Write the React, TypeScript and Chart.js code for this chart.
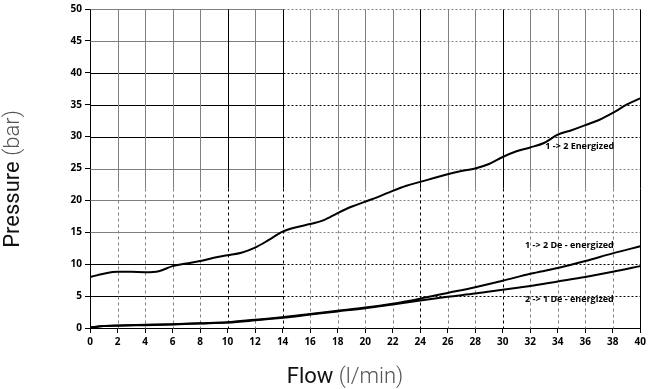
import React, { useEffect, useRef } from "react";
import { Chart, registerables } from "chart.js";

Chart.register(...registerables);

// Flow (l/min) sample points
const flowUpper = [0, 1, 2, 3, 4, 5, 6, 7, 8, 9, 10, 11, 12, 13, 14, 15, 16, 17, 18, 19, 20, 21, 22, 23, 24, 25, 26, 27, 28, 29, 30, 31, 32, 33, 34, 35, 36, 37, 38, 39, 40];
// 1 -> 2 Energized (bar)
const energized12 = [8.0, 8.5, 8.8, 8.8, 8.75, 8.9, 9.7, 10.1, 10.5, 11.0, 11.4, 11.8, 12.6, 13.8, 15.1, 15.8, 16.3, 16.9, 18.0, 19.0, 19.8, 20.6, 21.5, 22.3, 22.9, 23.5, 24.1, 24.6, 25.0, 25.7, 26.8, 27.7, 28.3, 29.0, 30.3, 31.0, 31.8, 32.6, 33.7, 35.0, 36.0];

const flowDe = [0, 1, 2, 4, 6, 8, 10, 12, 14, 16, 18, 20, 22, 24, 26, 28, 30, 32, 34, 36, 38, 40];
// 1 -> 2 De - energized (bar)
const deEnergized12 = [0.05, 0.3, 0.4, 0.5, 0.6, 0.75, 0.9, 1.3, 1.7, 2.2, 2.7, 3.2, 3.8, 4.6, 5.5, 6.4, 7.4, 8.5, 9.4, 10.5, 11.7, 12.8];
// 2 -> 1 De - energized (bar)
const deEnergized21 = [0.05, 0.3, 0.35, 0.45, 0.55, 0.7, 0.85, 1.2, 1.6, 2.1, 2.6, 3.1, 3.7, 4.3, 4.9, 5.4, 6.0, 6.6, 7.3, 8.0, 8.8, 9.7];

const xTicks = [0, 2, 4, 6, 8, 10, 12, 14, 16, 18, 20, 22, 24, 26, 28, 30, 32, 34, 36, 38, 40];
const yTicks = [0, 5, 10, 15, 20, 25, 30, 35, 40, 45, 50];
const darkX = [0, 10, 14, 24, 30, 40];
const darkY = [0, 5, 10, 30, 35, 40];

const seriesLabels = ["1 -> 2 Energized", "1 -> 2 De - energized", "2 -> 1 De - energized"];
// label anchor points in data units (flow, pressure)
const labelFlow = [35.6, 34.85, 34.85];
const labelPressure = [28.5, 12.9, 4.5];

const TICK_FONT = "'Open Sans', 'Liberation Sans', sans-serif";

const gridPlugin = {
  id: "customGrid",
  beforeDatasetsDraw(chart: any) {
    const { ctx, scales } = chart;
    const xs = scales.x;
    const ys = scales.y;
    const px = (v: number) => Math.round(xs.getPixelForValue(v)) + 0.5;
    const py = (v: number) => Math.round(ys.getPixelForValue(v)) + 0.5;
    ctx.save();
    ctx.lineWidth = 1;
    yTicks.forEach((v) => {
      if (v === 0) return;
      const y = py(v);
      ctx.strokeStyle = darkY.includes(v) ? "#000" : "#808080";
      ctx.setLineDash([]);
      ctx.beginPath();
      ctx.moveTo(px(0), y);
      ctx.lineTo(px(14), y);
      ctx.stroke();
      ctx.setLineDash([2, 2]);
      ctx.beginPath();
      ctx.moveTo(px(14), y);
      ctx.lineTo(px(40), y);
      ctx.stroke();
    });
    xTicks.forEach((v) => {
      if (v === 0) return;
      const x = px(v);
      ctx.strokeStyle = darkX.includes(v) ? "#000" : "#808080";
      ctx.setLineDash([]);
      ctx.beginPath();
      ctx.moveTo(x, py(50));
      ctx.lineTo(x, py(22));
      ctx.stroke();
      ctx.setLineDash(v === 40 ? [] : [3, 3]);
      ctx.beginPath();
      ctx.moveTo(x, py(22));
      ctx.lineTo(x, py(0));
      ctx.stroke();
    });
    ctx.restore();
  },
  afterDraw(chart: any) {
    const { ctx, scales } = chart;
    const xs = scales.x;
    const ys = scales.y;
    ctx.save();
    ctx.fillStyle = "#000";
    ctx.font = `bold 9px ${TICK_FONT}`;
    ctx.textAlign = "center";
    ctx.textBaseline = "middle";
    seriesLabels.forEach((t, i) => {
      ctx.fillText(t, xs.getPixelForValue(labelFlow[i]), ys.getPixelForValue(labelPressure[i]));
    });
    const drawMixed = (parts: { t: string; font: string; color: string }[], cx: number, cy: number, rot: number) => {
      ctx.save();
      ctx.translate(cx, cy);
      ctx.rotate(rot);
      ctx.textAlign = "left";
      ctx.textBaseline = "alphabetic";
      let total = 0;
      const widths = parts.map((p) => {
        ctx.font = p.font;
        const w = ctx.measureText(p.t).width;
        total += w;
        return w;
      });
      let x = -total / 2;
      parts.forEach((p, i) => {
        ctx.font = p.font;
        ctx.fillStyle = p.color;
        ctx.fillText(p.t, x, 0);
        x += widths[i];
      });
      ctx.restore();
    };
    drawMixed(
      [
        { t: "Flow ", font: "400 22px Roboto, sans-serif", color: "#111" },
        { t: "(l/min)", font: "300 22px Roboto, sans-serif", color: "#555" },
      ],
      345,
      383,
      0
    );
    drawMixed(
      [
        { t: "Pressure ", font: "400 22px Roboto, sans-serif", color: "#111" },
        { t: "(bar)", font: "300 22px Roboto, sans-serif", color: "#555" },
      ],
      19,
      179,
      -Math.PI / 2
    );
    ctx.restore();
  },
};

export default function App() {
  const ref = useRef<HTMLCanvasElement | null>(null);
  useEffect(() => {
    document.body.style.margin = "0";
    document.body.style.overflow = "hidden";
    const canvas = ref.current!;
    const chart = new Chart(canvas, {
      type: "line",
      data: {
        datasets: [
          {
            label: seriesLabels[0],
            data: flowUpper.map((x, i) => ({ x, y: energized12[i] })),
          },
          {
            label: seriesLabels[1],
            data: flowDe.map((x, i) => ({ x, y: deEnergized12[i] })),
          },
          {
            label: seriesLabels[2],
            data: flowDe.map((x, i) => ({ x, y: deEnergized21[i] })),
          },
        ].map((d) => ({
          ...d,
          borderColor: "#000",
          backgroundColor: "#000",
          borderWidth: 2,
          pointRadius: 0,
          cubicInterpolationMode: "monotone" as const,
          fill: false,
        })),
      },
      options: {
        responsive: false,
        animation: false,
        layout: { padding: { left: 0, right: 8, top: 7, bottom: 0 } },
        plugins: { legend: { display: false }, tooltip: { enabled: false } },
        scales: {
          x: {
            type: "linear",
            min: 0,
            max: 40,
            afterBuildTicks: (s: any) => {
              s.ticks = xTicks.map((v) => ({ value: v }));
            },
            afterFit: (s: any) => {
              s.height = 61;
            },
            ticks: {
              color: "#000",
              font: { family: TICK_FONT, size: 10, weight: "bold" },
              padding: 3,
              maxRotation: 0,
              autoSkip: false,
            },
            grid: { drawOnChartArea: false, drawTicks: true, tickLength: 5, color: "#000" },
            border: { display: true, color: "#000", width: 1 },
          },
          y: {
            type: "linear",
            min: 0,
            max: 50,
            afterBuildTicks: (s: any) => {
              s.ticks = yTicks.map((v) => ({ value: v }));
            },
            afterFit: (s: any) => {
              s.width = 90;
            },
            ticks: {
              color: "#000",
              font: { family: TICK_FONT, size: 10, weight: "bold" },
              padding: 3,
              autoSkip: false,
            },
            grid: { drawOnChartArea: false, drawTicks: true, tickLength: 5, color: "#000" },
            border: { display: true, color: "#000", width: 1 },
          },
        },
      },
      plugins: [gridPlugin],
    });
    return () => chart.destroy();
  }, []);
  return <canvas ref={ref} width={649} height={389} style={{ display: "block" }} />;
}
